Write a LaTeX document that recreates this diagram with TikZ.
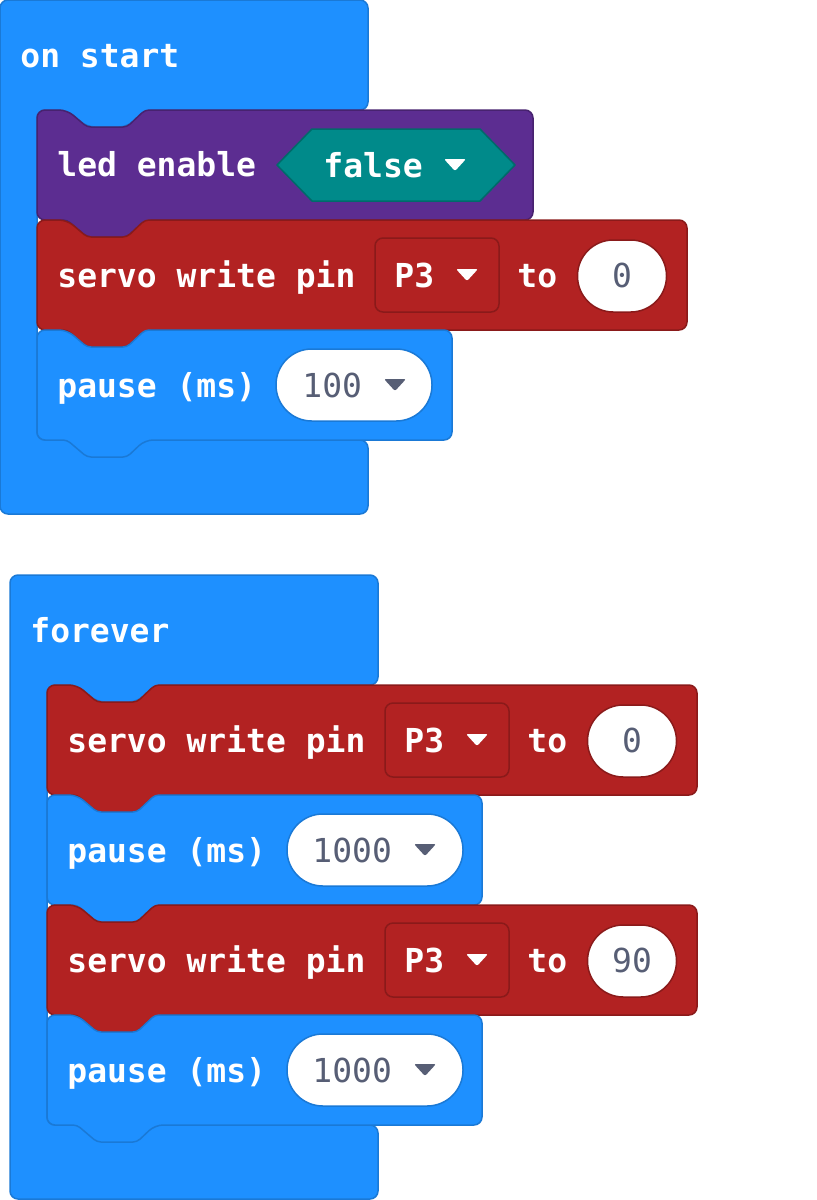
\documentclass[tikz,border=0pt]{standalone}
\usepackage{fontspec}
\newfontfamily\blockfamily{DejaVu Sans Mono}
\newcommand{\blockfont}{\blockfamily\bfseries\fontsize{16.5pt}{20pt}\selectfont}
\newcommand{\numfont}{\blockfamily\fontsize{16.5pt}{20pt}\selectfont}
\definecolor{evtblue}{HTML}{1E90FF}
\definecolor{evtline}{HTML}{1A79D6}
\definecolor{ledpurple}{HTML}{5C2D91}
\definecolor{ledline}{HTML}{47226F}
\definecolor{pinred}{HTML}{B22222}
\definecolor{pinline}{HTML}{8A1A1A}
\definecolor{logicteal}{HTML}{008A8A}
\definecolor{logicline}{HTML}{006A6A}
\definecolor{valgray}{HTML}{575E75}
\tikzset{blk/.style={line width=0.75pt, rounded corners=4pt, line join=round},
  evt/.style={blk, fill=evtblue, draw=evtline},
  ledblk/.style={blk, fill=ledpurple, draw=ledline},
  pinblk/.style={blk, fill=pinred, draw=pinline},
  lbl/.style={text=white, font=\blockfont, inner sep=0pt, anchor=base west},
  numtxt/.style={text=valgray, font=\numfont, inner sep=0pt},
  oval/.style={fill=white, line width=0.75pt, rounded corners=17.9pt, minimum height=36pt, inner sep=0pt},
  pinbox/.style={fill=pinred, draw=pinline, line width=0.75pt, rounded corners=4pt, minimum width=62pt, minimum height=37pt, inner sep=0pt},
  ddtri/.style={rounded corners=1pt}}

\begin{document}
\begin{tikzpicture}[x=0.5pt, y=-0.5pt]
  \useasboundingbox (0,0) rectangle (816,1200);
  % event blocks (C shapes)
  \foreach \xa/\ya/\arm/\txt/\nm in {0/0/440/on start/start, 10/575/550/forever/loop}{
    \draw[evt, shift={(\xa,\ya)}] (0,0) -- (368,0) -- (368,110) -- (145,110) -- (127,127)
      -- (87,127) -- (67,110) -- (37,110) -- (37,\arm) -- (368,\arm) -- (368,\arm+74)
      -- (0,\arm+74) -- cycle;
    \node[lbl] (\nm) at (\xa+20,\ya+67) {\txt};
  }
  % statement blocks
  \foreach \xa/\ya/\w/\s in {37/110/496/ledblk, 37/220/650/pinblk, 37/330/415/evt,
      47/685/650/pinblk, 47/795/435/evt, 47/905/650/pinblk, 47/1015/435/evt}
    \draw[\s, shift={(\xa,\ya)}] (0,0) -- (30,0) [rounded corners=2pt] -- (50,17) -- (90,17)
      -- (108,0) [rounded corners=4pt] -- (\w,0) -- (\w,110) -- (108,110)
      [rounded corners=2pt] -- (90,127) -- (50,127) -- (30,110) [rounded corners=4pt]
      -- (0,110) -- cycle;

  % led enable
  \begin{scope}[shift={(37,110)}]
    \node[lbl] (led) at (20,66) {led enable};
    \draw[fill=logicteal, draw=logicline, line width=0.75pt, line join=round]
      (240,55) -- (275,19) -- (443,19) -- (478,55) -- (443,91) -- (275,91) -- cycle;
    \node[lbl] (flag) at (286,67) {false};
    \fill[white, ddtri] (407,49) -- (429,49) -- (418,61) -- cycle;
  \end{scope}

  % servo write pin
  \foreach \xa/\ya/\val/\nm in {37/220/0/a, 47/685/0/b, 47/905/90/c}{
    \begin{scope}[shift={(\xa,\ya)}]
      \node[lbl] (servo\nm) at (20,67) {servo write pin};
      \node[pinbox] (pin\nm) at (400,55) {};
      \node[lbl] (pname\nm) at (357,67) {P3};
      \fill[white, ddtri] (419,49) -- (441,49) -- (430,61) -- cycle;
      \node[lbl] (to\nm) at (480,67) {to};
      \node[oval, draw=pinline, minimum width=44.5pt] (deg\nm) at (585,56) {};
      \node[numtxt, anchor=base] (degval\nm) at (585,67) {\val};
    \end{scope}}

  % pause
  \foreach \xa/\ya/\cx/\ow/\tx/\val/\nm in {37/330/317/78/358/100/a,
      47/795/328/88/378/1000/b, 47/1015/328/88/378/1000/c}{
    \begin{scope}[shift={(\xa,\ya)}]
      \node[lbl] (pause\nm) at (20,67) {pause (ms)};
      \node[oval, draw=evtline, minimum width=\ow pt] (ms\nm) at (\cx,55) {};
      \node[numtxt, anchor=base west] (msval\nm) at (265,67) {\val};
      \fill[valgray, ddtri] (\tx-11,49) -- (\tx+11,49) -- (\tx,61) -- cycle;
    \end{scope}}
\end{tikzpicture}
\end{document}
